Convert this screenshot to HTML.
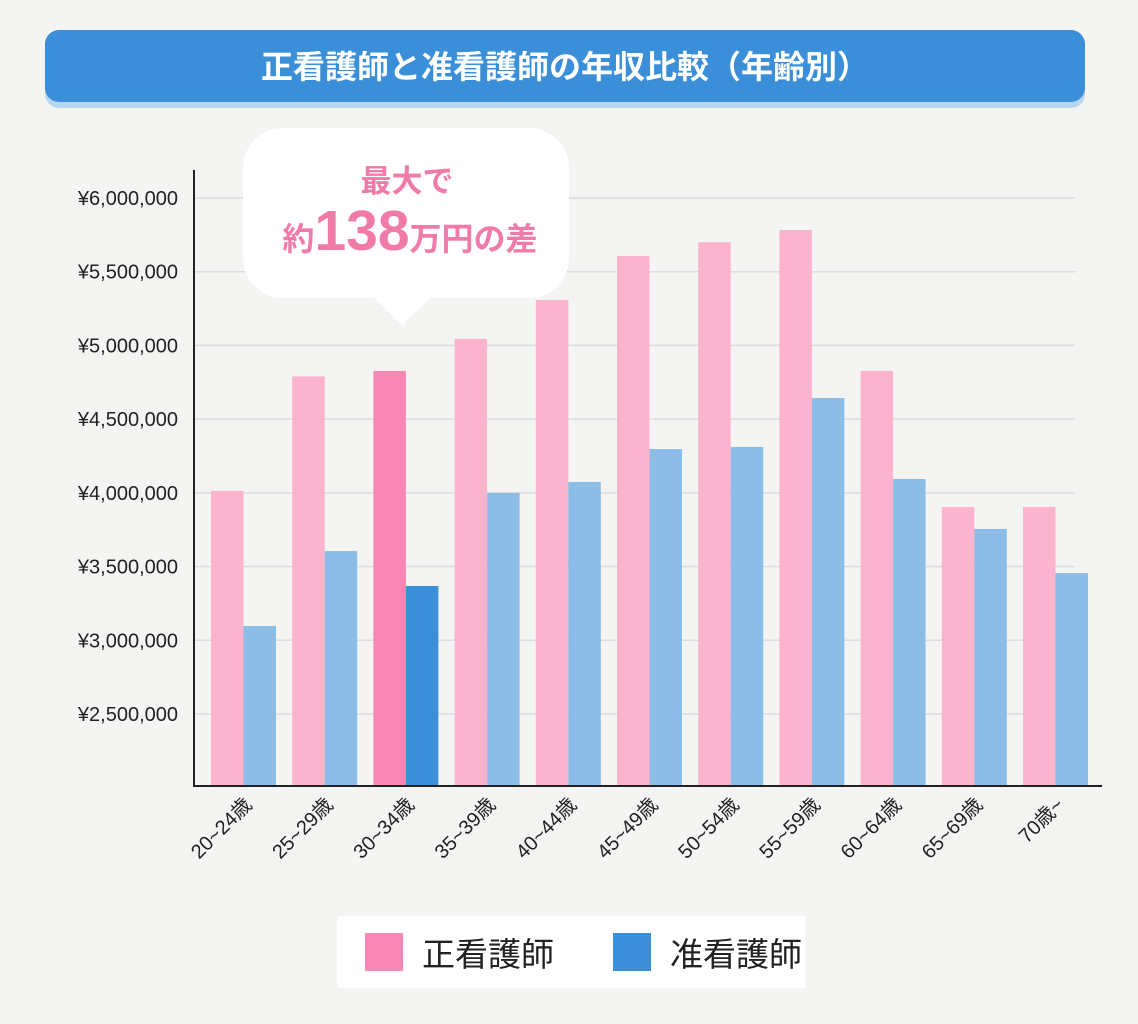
<!DOCTYPE html>
<html><head><meta charset="utf-8"><style>
body{margin:0;background:#f4f4f2;font-family:"Liberation Sans","Noto Sans CJK JP",sans-serif;}
</style></head><body>
<svg width="1138" height="1024" xmlns="http://www.w3.org/2000/svg" style="display:block">
<rect width="1138" height="1024" fill="#f4f4f2"/>
<rect x="45" y="36" width="1040" height="72" rx="14" fill="#b9d6f0"/>
<rect x="45" y="30" width="1040" height="72" rx="14" fill="#3a8fd8"/>
<text x="565" y="78" text-anchor="middle" fill="#fff" font-size="32" font-weight="bold">正看護師と准看護師の年収比較（年齢別）</text>
<g id="grid"></g>
<g id="bars"></g>
<line x1="194" y1="170" x2="194" y2="786" stroke="#222" stroke-width="2"/>
<line x1="193" y1="786" x2="1102" y2="786" stroke="#222" stroke-width="2"/>
<g>
<rect x="243" y="128" width="326" height="170" rx="40" fill="#fff"/>
<polygon points="372,296 432,296 402,325" fill="#fff"/>
<text x="407" y="192" text-anchor="middle" fill="#f07aa8" font-size="31" font-weight="bold">最大で</text>
<text x="410" y="250" text-anchor="middle" fill="#f07aa8" font-weight="bold"><tspan font-size="32">約</tspan><tspan font-size="57">138</tspan><tspan font-size="32">万円の差</tspan></text>
</g>
<g>
<rect x="337" y="916" width="468" height="72" fill="#fff"/>
<rect x="365" y="933" width="38" height="38" fill="#f987b3"/>
<text x="422" y="966" font-size="33" fill="#222">正看護師</text>
<rect x="613" y="933" width="38" height="38" fill="#3a8fd8"/>
<text x="670" y="966" font-size="33" fill="#222">准看護師</text>
</g>
</svg>
<script>
const categories=["20~24歳","25~29歳","30~34歳","35~39歳","40~44歳","45~49歳","50~54歳","55~59歳","60~64歳","65~69歳","70歳~"];
const seikango=[4013000,4790000,4827000,5044000,5308000,5607000,5700000,5783000,4827000,3904000,3904000];
const junkango=[3097000,3605000,3368000,3999000,4074000,4297000,4311000,4643000,4094000,3755000,3456000];
const yTicks=[2500000,3000000,3500000,4000000,4500000,5000000,5500000,6000000];
const highlight=2;
const NS="http://www.w3.org/2000/svg";
function y(v){return 198+(6000000-v)/500000*73.71;}
function x(i){return 211+i*81.2;}
const grid=document.getElementById('grid'),bars=document.getElementById('bars');
yTicks.forEach(t=>{
 const l=document.createElementNS(NS,'line');
 l.setAttribute('x1',194);l.setAttribute('x2',1075);l.setAttribute('y1',y(t));l.setAttribute('y2',y(t));
 l.setAttribute('stroke','#dcdcdc');l.setAttribute('stroke-width','1.5');
 
 
 grid.appendChild(l);
 const tx=document.createElementNS(NS,'text');
 tx.setAttribute('x',178);tx.setAttribute('y',y(t)+7);tx.setAttribute('text-anchor','end');
 tx.setAttribute('font-size','20');tx.setAttribute('fill','#222');
 tx.textContent='¥'+t.toLocaleString('en-US');
 
 
 grid.appendChild(tx);
});
const base=y(2000000);
categories.forEach((c,i)=>{
 const p=document.createElementNS(NS,'rect');
 p.setAttribute('x',x(i));p.setAttribute('width',32.5);p.setAttribute('y',y(seikango[i]));
 p.setAttribute('height',Math.min(786,base)-y(seikango[i]));
 p.setAttribute('fill',i===highlight?'#f987b3':'#fbb3ce');
 
 
 bars.appendChild(p);
 const b=document.createElementNS(NS,'rect');
 b.setAttribute('x',x(i)+32.5);b.setAttribute('width',32.5);b.setAttribute('y',y(junkango[i]));
 b.setAttribute('height',Math.min(786,base)-y(junkango[i]));
 b.setAttribute('fill',i===highlight?'#3a8fd8':'#8bbde6');
 
 
 bars.appendChild(b);
 const t=document.createElementNS(NS,'text');
 const cx=x(i)+42,cy=806;
 t.setAttribute('x',cx);t.setAttribute('y',cy);t.setAttribute('text-anchor','end');
 t.setAttribute('font-size','20');t.setAttribute('fill','#222');
 t.setAttribute('transform','rotate(-45 '+cx+' '+cy+')');
 t.textContent=c;
 
 
 bars.appendChild(t);
});
</script>
</body></html>
